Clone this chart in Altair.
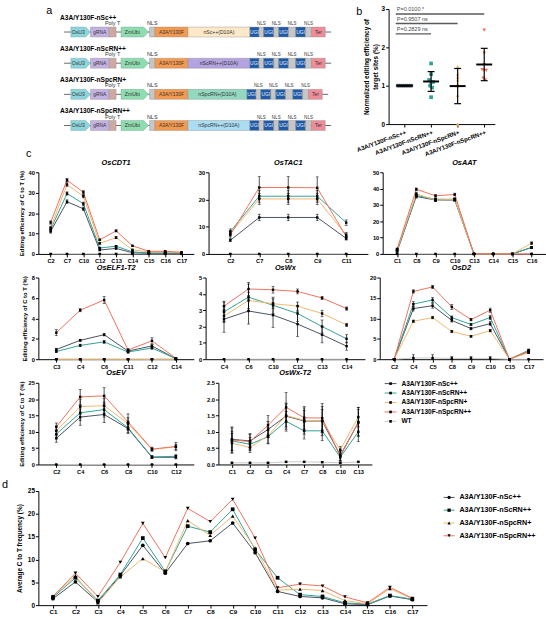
import json
import altair as alt
import numpy as np
import pandas as pd

FONT = "Liberation Sans"

# ---------------------------------------------------------------- series
SERIES = ["A3A/Y130F-nSc++", "A3A/Y130F-nScRN++", "A3A/Y130F-nSpcRN+",
          "A3A/Y130F-nSpcRN++", "WT"]
SERIES_COLORS = ["#47515f", "#30a197", "#f0b96c", "#f0705c", "#c8c8c8"]
DRAW_ORDER = ["WT", SERIES[0], SERIES[1], SERIES[2], SERIES[3]]
D_SHAPES = ["circle", "square", "triangle-up", "triangle-down"]

# ---------------------------------------------------------------- panel a: constructs
CONSTRUCTS = ["A3A/Y130F-nSc++", "A3A/Y130F-nScRN++", "A3A/Y130F-nSpcRN+", "A3A/Y130F-nSpcRN++"]
CAS_LABELS = ["nSc++(D10A)", "nScRN++(D10A)", "nSpcRN+(D10A)", "nSpcRN++(D10A)"]
CAS_LENGTHS = [63, 63, 60, 63]
CAS_COLORS = ["#fde8c8", "#b3a3e0", "#92d9bf", "#aadcf3"]
# element kind and length along the cassette (Cas length comes from CAS_LENGTHS)
CASSETTE = [("line", 7), ("OsU3", 20), ("gRNA", 19), ("PolyT", 7), ("line", 5),
            ("ZmUbi", 28), ("line", 1), ("NLS", 5.5), ("A3A", 33.5), ("Cas", 0),
            ("UGI", 9.3), ("NLS", 4.7), ("UGI", 10.3), ("NLS", 5), ("UGI", 10),
            ("NLS", 7.3), ("UGI", 10), ("NLS", 6), ("Ter", 14), ("line", 6)]
CASSETTE_START = 26
PART_TEXT = {"OsU3": "OsU3", "gRNA": "gRNA", "ZmUbi": "ZmUbi", "A3A": "A3A/Y130F",
             "UGI": "UGI", "Ter": "Ter"}
PART_COLORS = {"OsU3": "#8ed4dc", "gRNA": "#c3b1e1", "PolyT": "#cfa9a1", "ZmUbi": "#8fdcae",
               "NLS": "#c6c6c6", "A3A": "#f39a50", "UGI": "#1e5aa8", "Ter": "#ee8c98"}
ARROWS = ["OsU3", "ZmUbi"]

# ---------------------------------------------------------------- panel b
B_VALUES = [
    [1.0, 1.0, 1.0, 1.0, 1.0, 1.0, 1.0, 1.0],
    [1.58, 1.30, 1.15, 1.10, 1.10, 1.00, 0.95, 0.70],
    [1.50, 1.30, 1.22, 1.15, 1.00, 1.00, 0.75, 0.00],
    [2.45, 1.85, 1.55, 1.42, 1.40, 1.40, 1.20, 1.15],
]
B_SIG_TEXT = ["P=0.2829  ns", "P=0.9507  ns", "P=0.0100  *"]
B_SIG_TO = [2, 3, 4]
B_SIG_Y = [2.35, 2.62, 2.87]

# ---------------------------------------------------------------- panel c: per-target C-to-T editing
# rows follow SERIES order: nSc++, nScRN++, nSpcRN+, nSpcRN++, WT
CDT1_SITES = ["C2", "C7", "C10", "C12", "C13", "C14", "C15", "C16", "C17"]
CDT1_MEAN = [[11.0, 25.6, 22.1, 1.9, 2.7, 0.6, 0.3, 0.3, 0.3],
             [12.0, 29.6, 24.6, 2.9, 3.8, 1.0, 0.5, 0.5, 0.4],
             [12.8, 34.0, 28.3, 5.2, 8.0, 2.0, 1.0, 1.0, 0.6],
             [15.4, 36.2, 30.2, 6.9, 11.3, 4.0, 1.3, 1.3, 0.8],
             [0, 0, 0, 0, 0, 0, 0, 0, 0]]
CDT1_SD = [[0.8, 0.9, 0.9, 0.3, 0.4, 0.2, 0.1, 0.1, 0.1],
           [0.8, 0.8, 0.8, 0.3, 0.4, 0.2, 0.1, 0.1, 0.1],
           [0.8, 0.9, 0.8, 0.4, 0.5, 0.3, 0.2, 0.2, 0.1],
           [0.8, 0.8, 0.8, 0.4, 0.5, 0.3, 0.2, 0.2, 0.1],
           [0, 0, 0, 0, 0, 0, 0, 0, 0]]

TAC1_SITES = ["C2", "C7", "C8", "C9", "C11"]
TAC1_MEAN = [[5.0, 13.4, 13.4, 13.4, 5.7],
             [8.2, 21.2, 21.2, 21.2, 11.5],
             [7.5, 20.2, 20.2, 20.2, 6.9],
             [7.0, 24.4, 24.4, 24.3, 6.4],
             [0, 0, 0, 0, 0]]
TAC1_SD = [[0.5, 1.2, 1.2, 1.2, 0.6],
           [1.0, 2.2, 2.2, 2.2, 1.0],
           [1.0, 2.0, 2.0, 2.0, 1.0],
           [1.2, 4.0, 4.0, 4.0, 1.0],
           [0, 0, 0, 0, 0]]

AAT_SITES = ["C1", "C8", "C9", "C10", "C13", "C14", "C15", "C16"]
AAT_MEAN = [[1.5, 35.2, 33.0, 33.0, 0, 0, 0, 4.0],
            [2.0, 35.8, 33.5, 33.5, 0, 0, 0, 4.0],
            [2.5, 36.8, 33.0, 33.5, 0, 0, 0, 6.6],
            [3.0, 39.6, 35.6, 36.4, 0, 0, 0, 0],
            [0, 0, 0, 0, 0, 0, 0, 0]]
AAT_SD = [[0.5, 1.0, 0.8, 0.8, 0, 0, 0, 0.6],
          [0.5, 1.0, 0.8, 0.8, 0, 0, 0, 0.6],
          [0.5, 1.0, 0.8, 0.8, 0, 0, 0, 0.8],
          [0.6, 0.8, 0.8, 0.8, 0, 0, 0, 0],
          [0, 0, 0, 0, 0, 0, 0, 0]]

ELF_SITES = ["C3", "C4", "C6", "C11", "C12", "C14"]
ELF_MEAN = [[0.95, 1.85, 2.4, 0.8, 1.3, 0.05],
            [0.75, 1.35, 1.7, 0.7, 1.1, 0.05],
            [0, 0, 0, 0, 0, 0],
            [2.6, 4.8, 5.8, 0.9, 1.8, 0.1],
            [0, 0, 0, 0, 0, 0]]
ELF_SD = [[0.12, 0.1, 0.12, 0.1, 0.15, 0.05],
          [0.1, 0.12, 0.15, 0.1, 0.12, 0.05],
          [0, 0, 0, 0, 0, 0],
          [0.3, 0.15, 0.35, 0.15, 0.3, 0.05],
          [0, 0, 0, 0, 0, 0]]

WX_SITES = ["C4", "C6", "C10", "C12", "C13", "C14"]
WX_MEAN = [[2.45, 2.95, 2.7, 2.15, 1.5, 0.8],
           [2.9, 3.8, 3.3, 2.8, 2.0, 1.25],
           [2.65, 3.6, 3.4, 3.25, 2.8, 2.1],
           [3.25, 4.3, 4.25, 4.15, 3.75, 3.1],
           [0, 0, 0, 0, 0, 0]]
WX_SD = [[0.8, 0.8, 0.75, 0.75, 0.5, 0.25],
         [0.6, 0.8, 0.5, 0.5, 0.4, 0.25],
         [0.4, 0.5, 0.3, 0.25, 0.2, 0.1],
         [0.3, 0.4, 0.2, 0.15, 0.1, 0.1],
         [0, 0, 0, 0, 0, 0]]

D2_SITES = ["C2", "C4", "C5", "C8", "C9", "C10", "C15", "C17"]
D2_MEAN = [[0, 12.4, 13.1, 9.5, 7.5, 8.7, 0, 1.8],
           [0, 13.5, 14.5, 10.2, 8.5, 10.2, 0, 2.2],
           [0, 9.3, 10.2, 6.8, 5.6, 7.0, 0, 1.6],
           [0, 16.6, 17.7, 12.8, 9.7, 12.0, 0, 2.0],
           [0, 0.3, 0.3, 0.2, 0.2, 0.2, 0, 0]]
D2_SD = [[0, 0.6, 0.6, 0.4, 0.3, 0.5, 0, 0.3],
         [0, 0.6, 0.6, 0.4, 0.3, 0.5, 0, 0.3],
         [0, 0.3, 0.3, 0.2, 0.2, 0.3, 0, 0.2],
         [0, 0.4, 0.4, 0.6, 0.3, 0.5, 0, 0.3],
         [0, 0.8, 0.8, 0.5, 0.5, 0.5, 0, 0]]

EV_SITES = ["C2", "C4", "C6", "C8", "C10", "C12"]
EV_MEAN = [[8.0, 14.5, 15.3, 11.0, 2.2, 2.2],
           [9.3, 15.8, 16.8, 11.2, 2.3, 2.5],
           [10.3, 17.7, 18.0, 12.5, 4.6, 5.4],
           [11.5, 20.7, 21.0, 13.0, 4.7, 5.5],
           [0, 0, 0, 0, 0, 0]]
EV_SD = [[1.2, 2.5, 2.5, 1.5, 0.4, 0.5],
         [1.2, 2.3, 2.3, 1.5, 0.4, 0.5],
         [1.5, 2.3, 2.3, 1.8, 0.5, 0.8],
         [1.2, 2.3, 2.5, 2.5, 0.6, 1.3],
         [0, 0, 0, 0, 0, 0]]

WXT2_SITES = ["C1", "C2", "C3", "C4", "C7", "C8", "C10", "C13"]
WXT2_MEAN = [[0.77, 0.72, 1.07, 1.48, 1.33, 1.33, 0.28, 1.28],
             [0.72, 0.62, 0.85, 1.32, 1.03, 1.03, 0.22, 1.0],
             [0.65, 0.52, 0.88, 1.5, 1.35, 1.33, 0.45, 1.45],
             [0.75, 0.7, 1.2, 1.75, 1.43, 1.42, 0.25, 1.3],
             [0.05, 0.05, 0.05, 0.08, 0.08, 0.07, 0.05, 0.08]]
WXT2_SD = [[0.35, 0.2, 0.25, 0.4, 0.4, 0.45, 0.15, 0.4],
           [0.3, 0.2, 0.2, 0.3, 0.25, 0.3, 0.1, 0.3],
           [0.3, 0.15, 0.25, 0.35, 0.3, 0.35, 0.1, 0.3],
           [0.4, 0.25, 0.3, 0.45, 0.35, 0.45, 0.15, 0.45],
           [0.02, 0.02, 0.02, 0.02, 0.02, 0.02, 0.02, 0.02]]

# ---------------------------------------------------------------- panel d: average over targets
D_SITES = ["C%d" % i for i in range(1, 18)]
D_MEAN = [[1.4, 5.1, 0.7, 6.5, 13.1, 7.0, 13.5, 14.1, 18.0, 11.5, 3.0, 1.9, 1.6, 0.3, 0.1, 2.0, 1.2],
          [1.7, 6.0, 1.0, 6.7, 14.7, 7.4, 17.3, 16.0, 21.0, 12.2, 6.0, 2.3, 1.9, 0.5, 0.2, 2.1, 1.3],
          [2.0, 6.4, 0.5, 6.2, 10.2, 7.3, 18.5, 15.3, 19.5, 12.5, 3.3, 3.5, 3.2, 1.0, 0.3, 3.6, 1.4],
          [1.9, 7.0, 1.9, 9.4, 17.9, 10.4, 21.2, 18.3, 23.2, 14.7, 3.8, 4.6, 4.2, 1.8, 0.5, 3.9, 1.5]]

series_color = alt.Scale(domain=SERIES, range=SERIES_COLORS)


def letter(ch, dx, dy):
    return alt.Chart(pd.DataFrame({"t": [ch]})).mark_text(
        fontSize=11, align="left", baseline="top", font=FONT, color="black"
    ).encode(text="t:N", x=alt.value(dx), y=alt.value(dy))


def panel_letter(ch, dx):
    return alt.TitleParams(ch, anchor="start", fontSize=11, fontWeight="normal", font=FONT,
                           offset=0, dx=dx, color="black")


# ================================================================= panel a
rects, arrows, labels = [], [], []
for i, name in enumerate(CONSTRUCTS):
    pos = CASSETTE_START
    for kind, length in CASSETTE:
        if kind == "Cas":
            length = CAS_LENGTHS[i]
        start, end = pos, pos + length
        pos = end
        if kind == "line":
            continue
        color = CAS_COLORS[i] if kind == "Cas" else PART_COLORS[kind]
        if kind in ARROWS:
            tip = end - 5
            for x, t, b in [(start, i - 0.16, i + 0.16), (tip, i - 0.16, i + 0.16), (end, i, i)]:
                arrows.append(dict(id=f"{i}-{kind}", x=x, top=t, bot=b, color=color))
            labels.append(dict(x=(start + tip) / 2, y=i, t=PART_TEXT[kind], c="#333333", s=5.2, kind="in"))
        else:
            rects.append(dict(x=start, x2=end, y=i - 0.16, y2=i + 0.16, color=color))
            if kind == "Cas":
                labels.append(dict(x=(start + end) / 2, y=i, t=CAS_LABELS[i], c="#333333", s=5.2, kind="in"))
            elif kind in PART_TEXT:
                labels.append(dict(x=(start + end) / 2, y=i, t=PART_TEXT[kind],
                                   c="#e8ecf6" if kind == "UGI" else "#333333", s=5.0, kind="in"))
        if kind == "PolyT":
            labels.append(dict(x=(start + end) / 2, y=i - 0.19, t="Poly T", c="#333333", s=5.6, kind="above"))
        if kind == "NLS":
            first = start < 150
            labels.append(dict(x=(start + end) / 2, y=i - 0.19, t="NLS", c="#333333",
                               s=5.6 if first else 4.6, kind="above"))
    labels.append(dict(x=22, y=i - 0.45, t=name, c="black", s=6.7, kind="title"))
    rects.append(dict(x=CASSETTE_START, x2=pos, y=i, y2=i, color="line"))

rect_df = pd.DataFrame(rects)
arrow_df = pd.DataFrame(arrows)
label_df = pd.DataFrame(labels)

ax_a = alt.Scale(domain=[0, 310], nice=False, zero=False)
ay_a = alt.Scale(domain=[-0.74, 3.68], nice=False, zero=False, reverse=True)

backbone = alt.Chart(rect_df[rect_df.color == "line"]).mark_rule(color="#444444", strokeWidth=0.8).encode(
    x=alt.X("x:Q", scale=ax_a, axis=None), x2="x2:Q", y=alt.Y("y:Q", scale=ay_a, axis=None))
boxes = alt.Chart(rect_df[rect_df.color != "line"]).mark_rect(stroke="#8a8a8a", strokeWidth=0.4).encode(
    x=alt.X("x:Q", scale=ax_a, axis=None), x2="x2:Q",
    y=alt.Y("y:Q", scale=ay_a, axis=None), y2="y2:Q", color=alt.Color("color:N", scale=None))
arrow_marks = alt.Chart(arrow_df).mark_area(stroke="#6f9f9f", strokeWidth=0.4, interpolate="linear").encode(
    x=alt.X("x:Q", scale=ax_a, axis=None), y=alt.Y("top:Q", scale=ay_a, axis=None), y2="bot:Q",
    detail="id:N", color=alt.Color("color:N", scale=None))


def label_layer(kind, align, baseline, weight):
    return alt.Chart(label_df[label_df.kind == kind]).mark_text(
        align=align, baseline=baseline, font=FONT, fontWeight=weight).encode(
        x=alt.X("x:Q", scale=ax_a, axis=None), y=alt.Y("y:Q", scale=ay_a, axis=None),
        text="t:N", color=alt.Color("c:N", scale=None), size=alt.Size("s:Q", scale=None))


panel_a = alt.layer(
    backbone, boxes, arrow_marks,
    label_layer("in", "center", "middle", "normal"),
    label_layer("above", "center", "bottom", "normal"),
    label_layer("title", "left", "middle", "bold"),
    letter("a", 8, -4),
).properties(width=310, height=140)

# ================================================================= panel b
pts = []
for g, vals in enumerate(B_VALUES):
    vals = sorted(vals, reverse=True)
    clusters, cur = [], [vals[0]]
    for v in vals[1:]:
        if abs(cur[-1] - v) < 0.07:
            cur.append(v)
        else:
            clusters.append(cur)
            cur = [v]
    clusters.append(cur)
    for cl in clusters:
        n = len(cl)
        for k, v in enumerate(cl):
            pts.append(dict(group=SERIES[g], xpos=g + 1 + (k - (n - 1) / 2) * 0.075, value=v))
b_pts = pd.DataFrame(pts)
b_sum = pd.DataFrame([dict(group=SERIES[g], pos=g + 1, mean=np.mean(v), sd=np.std(v, ddof=1))
                      for g, v in enumerate(B_VALUES)])
b_sum["lo"] = b_sum["mean"] - b_sum["sd"]
b_sum["hi"] = b_sum["mean"] + b_sum["sd"]
b_sum["m0"] = b_sum["pos"] - 0.3
b_sum["m1"] = b_sum["pos"] + 0.3
b_sum["c0"] = b_sum["pos"] - 0.13
b_sum["c1"] = b_sum["pos"] + 0.13
b_sig = pd.DataFrame(dict(t=B_SIG_TEXT, x0=[0.67] * 3, x1=B_SIG_TO, y=B_SIG_Y))

bx_scale = alt.Scale(domain=[0.4, 4.4], nice=False, zero=False)
bx_axis = alt.Axis(values=[1, 2, 3, 4], labelExpr=json.dumps(SERIES[:4]) + "[datum.value - 1]",
                   labelAngle=-20, labelAlign="right", labelBaseline="top", title=None,
                   labelFontSize=6.2, labelPadding=2, labelOverlap=False, labelBound=False)
by_scale = alt.Scale(domain=[0, 3], nice=False)
by_axis = alt.Axis(values=[0, 1, 2, 3], title=["Normalized editing efficiency of", "target sites (%)"],
                   labelFontSize=6.5, titleFontSize=6.5, titlePadding=3)

b_points = alt.Chart(b_pts).mark_point(filled=True, size=14, opacity=1).encode(
    x=alt.X("xpos:Q", scale=bx_scale, axis=bx_axis),
    y=alt.Y("value:Q", scale=by_scale, axis=by_axis),
    color=alt.Color("group:N", scale=series_color, legend=None),
    shape=alt.Shape("group:N", scale=alt.Scale(domain=SERIES[:4], range=D_SHAPES), legend=None))
b_sd = alt.Chart(b_sum).mark_rule(color="black", strokeWidth=1.2).encode(
    x=alt.X("pos:Q", scale=bx_scale, axis=bx_axis), y=alt.Y("lo:Q", scale=by_scale, axis=by_axis), y2="hi:Q")
b_caps = alt.layer(*[
    alt.Chart(b_sum).mark_rule(color="black", strokeWidth=1.2).encode(
        x=alt.X("c0:Q", scale=bx_scale, axis=bx_axis), x2="c1:Q",
        y=alt.Y(f"{f}:Q", scale=by_scale, axis=by_axis)) for f in ("lo", "hi")])
b_mean = alt.Chart(b_sum).mark_rule(color="black", strokeWidth=2).encode(
    x=alt.X("m0:Q", scale=bx_scale, axis=bx_axis), x2="m1:Q",
    y=alt.Y("mean:Q", scale=by_scale, axis=by_axis))
b_sig_rule = alt.Chart(b_sig).mark_rule(color="#5a5a5a", strokeWidth=1.4).encode(
    x=alt.X("x0:Q", scale=bx_scale, axis=bx_axis), x2="x1:Q",
    y=alt.Y("y:Q", scale=by_scale, axis=by_axis))
b_sig_text = alt.Chart(b_sig).mark_text(align="left", baseline="bottom", dx=1, dy=-1.5,
                                         fontSize=5.6, color="#4a4a4a", font=FONT).encode(
    x=alt.X("x0:Q", scale=bx_scale, axis=bx_axis), y=alt.Y("y:Q", scale=by_scale, axis=by_axis), text="t:N")

panel_b = alt.layer(b_sig_rule, b_sig_text, b_points, b_sd, b_caps, b_mean,
                    letter("b", -33, -3)).properties(width=108, height=117)


# ================================================================= panel c
def gene_frame(sites, means, sds):
    rows = []
    for s_idx, name in enumerate(SERIES):
        for j, site in enumerate(sites):
            m, sd = means[s_idx][j], sds[s_idx][j]
            rows.append(dict(series=name, site=site, mean=m, lo=max(m - sd, 0), hi=m + sd,
                             z=DRAW_ORDER.index(name)))
    return pd.DataFrame(rows).sort_values("z", kind="stable")


def gene_panel(title, sites, means, sds, ymax, ystep, width, ytitle=None, fmt="d"):
    df = gene_frame(sites, means, sds)
    x = alt.X("site:N", sort=sites, scale=alt.Scale(type="point", padding=0.75),
              axis=alt.Axis(title=None, labelAngle=0, labelFontSize=5.8))
    ys = alt.Scale(domain=[0, ymax], nice=False)
    ya = alt.Axis(values=[float(v) for v in np.arange(0, ymax + ystep / 2, ystep)], format=fmt,
                  title=ytitle, labelFontSize=5.8, titleFontSize=6.0, titlePadding=4)
    base = alt.Chart(df)
    layers = [
        base.mark_line(strokeWidth=1).encode(
            x=x, y=alt.Y("mean:Q", scale=ys, axis=ya),
            color=alt.Color("series:N", scale=series_color, legend=None)),
        base.mark_rule(color="black", strokeWidth=0.7).encode(
            x=x, y=alt.Y("lo:Q", scale=ys, axis=ya), y2="hi:Q"),
        base.mark_tick(color="black", thickness=0.7, size=3).encode(
            x=x, y=alt.Y("lo:Q", scale=ys, axis=ya)),
        base.mark_tick(color="black", thickness=0.7, size=3).encode(
            x=x, y=alt.Y("hi:Q", scale=ys, axis=ya)),
        base.mark_point(shape="square", filled=True, color="black", size=6, opacity=1).encode(
            x=x, y=alt.Y("mean:Q", scale=ys, axis=ya)),
    ]
    return alt.layer(*layers).properties(
        width=width, height=83,
        title=alt.TitleParams(title, fontStyle="italic", fontWeight="bold", fontSize=7.5,
                              offset=3, font=FONT))


YT = "Editing efficiency of C to T (%)"
c1 = gene_panel("OsCDT1", CDT1_SITES, CDT1_MEAN, CDT1_SD, 40, 10, 158, YT)
c2 = gene_panel("OsTAC1", TAC1_SITES, TAC1_MEAN, TAC1_SD, 30, 10, 162)
c3 = gene_panel("OsAAT", AAT_SITES, AAT_MEAN, AAT_SD, 50, 10, 166)
c4 = gene_panel("OsELF1-T2", ELF_SITES, ELF_MEAN, ELF_SD, 8, 2, 158, YT)
c5 = gene_panel("OsWx", WX_SITES, WX_MEAN, WX_SD, 5, 1, 162)
c6 = gene_panel("OsD2", D2_SITES, D2_MEAN, D2_SD, 20, 5, 166)
c7 = gene_panel("OsEV", EV_SITES, EV_MEAN, EV_SD, 25, 5, 158, YT)
c8 = gene_panel("OsWx-T2", WXT2_SITES, WXT2_MEAN, WXT2_SD, 2.5, 0.5, 156, fmt=".1f")

leg_c_df = pd.DataFrame({"series": SERIES})
leg_c_y = alt.Y("series:N", sort=SERIES, scale=alt.Scale(type="point", range=[-4, 44]), axis=None)
legend_c = alt.layer(
    alt.Chart(leg_c_df).mark_rule(strokeWidth=1).encode(
        y=leg_c_y, x=alt.value(0), x2=alt.value(12),
        color=alt.Color("series:N", scale=series_color, legend=None)),
    alt.Chart(leg_c_df).mark_point(shape="square", filled=True, color="black", size=7, opacity=1).encode(
        y=leg_c_y, x=alt.value(6)),
    alt.Chart(leg_c_df).mark_text(align="left", baseline="middle", fontWeight="bold", fontSize=6.7,
                                  font=FONT, color="black").encode(
        y=leg_c_y, x=alt.value(17), text="series:N"),
).properties(width=100, height=50)

# ================================================================= panel d
d_rows = []
for s_idx, name in enumerate(SERIES[:4]):
    for j, site in enumerate(D_SITES):
        d_rows.append(dict(series=name, site=site, mean=D_MEAN[s_idx][j]))
d_df = pd.DataFrame(d_rows)
dx = alt.X("site:N", sort=D_SITES, scale=alt.Scale(type="point", padding=0.65),
           axis=alt.Axis(title=None, labelAngle=0, labelFontSize=6.3))
dys = alt.Scale(domain=[0, 25], nice=False)
dya = alt.Axis(values=[0, 5, 10, 15, 20, 25], title="Average C to T frequency (%)",
               labelFontSize=6.5, titleFontSize=6.5, titlePadding=5)
d_shape = alt.Shape("series:N", scale=alt.Scale(domain=SERIES[:4], range=D_SHAPES), legend=None)
panel_d = alt.layer(
    alt.Chart(d_df).mark_line(strokeWidth=1).encode(
        x=dx, y=alt.Y("mean:Q", scale=dys, axis=dya),
        color=alt.Color("series:N", scale=series_color, legend=None)),
    alt.Chart(d_df).mark_point(filled=True, color="black", size=14, opacity=1).encode(
        x=dx, y=alt.Y("mean:Q", scale=dys, axis=dya), shape=d_shape),
    letter("d", -37, -12),
).properties(width=395, height=116)

leg_d_df = pd.DataFrame({"series": SERIES[:4]})
leg_d_y = alt.Y("series:N", sort=SERIES[:4], scale=alt.Scale(type="point", padding=0.5), axis=None)
legend_d = alt.layer(
    alt.Chart(leg_d_df).mark_rule(strokeWidth=1).encode(
        y=leg_d_y, x=alt.value(0), x2=alt.value(11),
        color=alt.Color("series:N", scale=series_color, legend=None)),
    alt.Chart(leg_d_df).mark_point(filled=True, color="black", size=11, opacity=1).encode(
        y=leg_d_y, x=alt.value(5.5), shape=d_shape),
    alt.Chart(leg_d_df).mark_text(align="left", baseline="middle", fontWeight="bold", fontSize=7.3,
                                  font=FONT, color="black").encode(
        y=leg_d_y, x=alt.value(16), text="series:N"),
).properties(width=90, height=52)

# ================================================================= layout
row1 = alt.hconcat(panel_a, panel_b, spacing=12)
block_c = alt.vconcat(
    alt.hconcat(c1, c2, c3, spacing=4),
    alt.hconcat(c4, c5, c6, spacing=4),
    alt.hconcat(c7, c8, legend_c, spacing=12),
    spacing=0,
    title=panel_letter("c", 8),
)
row_d = alt.hconcat(panel_d, legend_d, spacing=16)
lower = alt.vconcat(block_c, row_d, spacing=5)

chart = alt.vconcat(row1, lower, spacing=-10).properties(
    padding={"left": 2, "right": 0, "top": 0, "bottom": 0}
).configure(font=FONT).configure_view(stroke=None).configure_axis(
    labelFont=FONT, titleFont=FONT, labelFontWeight="bold", titleFontWeight="bold",
    labelColor="black", titleColor="black", domainColor="black", tickColor="black",
    tickSize=3, domainWidth=1, tickWidth=1, labelPadding=1, grid=False,
)

chart.save("out.html", embed_options={"renderer": "svg", "actions": False})
